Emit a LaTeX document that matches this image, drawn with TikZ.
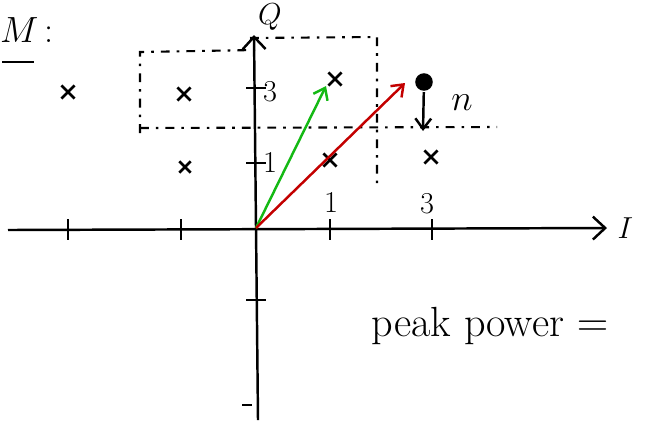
\documentclass[tikz,border=0pt]{standalone}
\usetikzlibrary{positioning}
\usetikzlibrary{arrows.meta}
\usetikzlibrary{shapes.misc}
\definecolor{sketchgreen}{RGB}{20,185,20}
\definecolor{sketchred}{RGB}{195,0,0}

\begin{document}
\begin{tikzpicture}[x=0.02cm, y=-0.02cm, line width=1.4pt,
    axis/.style={-{Straight Barb[length=7pt,width=13pt]}},
    pt/.style={cross out, draw, minimum size=6pt, inner sep=0pt, line width=1.5pt},
    bigpt/.style={circle, fill, minimum size=10pt, inner sep=0pt},
    region/.style={line width=1.2pt, dash pattern=on 5pt off 4pt on 1.5pt off 4pt},
    vec/.style={-{Straight Barb[length=6pt,width=9pt]}, line width=1.4pt},
    lab/.style={font=\LARGE}]

    \useasboundingbox (0,0) rectangle (645,424);

    % axes
    \coordinate (o) at (256,228);
    \coordinate (iL) at (8,230);
    \coordinate (iR) at (607,228);
    \coordinate (qB) at (258,420);
    \coordinate (qT) at (254,35);
    \draw[axis] (iL) -- (iR);
    \draw[axis] (qB) -- (qT);
    \node[lab, right=2pt of iR] (ilab) {$I$};
    \node[lab, inner sep=1pt] (qlab) at (270,17) {$Q$};

    % ticks
    \foreach \x in {68,181,330,432} \draw (\x,219) -- (\x,240);
    \foreach \y in {88,163,300} \draw (246,\y) -- (266,\y);
    \draw (242,405) -- (252,405);
    \node[lab] (t1) at (331,202) {1};
    \node[lab] (t3) at (427,204) {3};
    \node[lab] (u1) at (270,162) {1};
    \node[lab] (u3) at (270,92) {3};

    % decision regions
    \draw[region] (140,133) -- (140,52) -- (255,50);
    \draw[region] (140,128) -- (497,127);
    \draw[region] (250,38) -- (377,37) -- (377,183);

    % constellation
    \node[pt] (s1) at (68,92) {};
    \node[pt] (s2) at (184,94) {};
    \node[pt] (s3) at (335,79) {};
    \node[bigpt] (s4) at (424,82) {};
    \node[pt, minimum size=5pt] (s5) at (185,167) {};
    \node[pt] (s6) at (330,160) {};
    \node[pt] (s7) at (431,157) {};

    % vectors
    \coordinate (gEnd) at (326,86);
    \coordinate (rEnd) at (405,83);
    \draw[vec, sketchgreen] (o) -- (gEnd);
    \draw[vec, sketchred] (o) -- (rEnd);

    % noise
    \coordinate (nEnd) at (423,131);
    \draw[vec] (s4) -- (nEnd);
    \node[font=\huge] (nlab) at (462,103) {$n$};

    \node[font=\huge, inner sep=1pt] (title) at (27,30) {$M$\,:};
    \draw (2,62) -- (34,62);
    \node[font=\fontsize{24}{28}\selectfont] (peak) at (490,326) {peak power $=$};
\end{tikzpicture}
\end{document}
